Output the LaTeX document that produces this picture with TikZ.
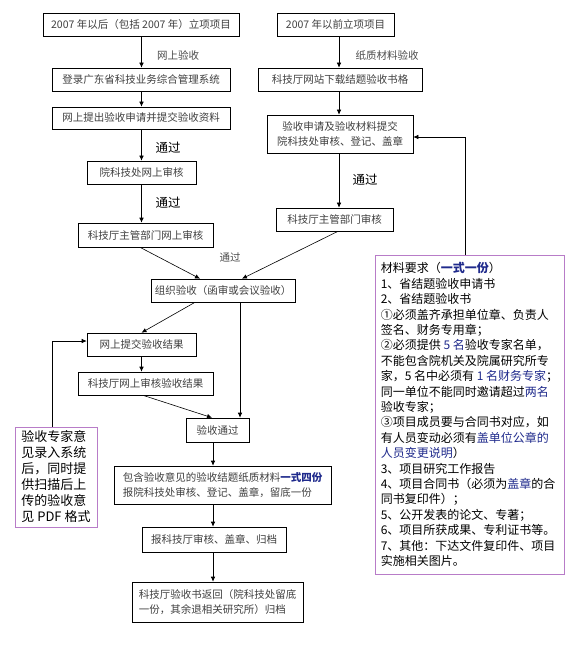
\documentclass[tikz,border=0pt]{standalone}
\usepackage{fontspec}
\setmainfont{Noto Sans CJK SC}
\usetikzlibrary{arrows.meta}
\definecolor{navy}{HTML}{1F2A8C}
\definecolor{violet}{HTML}{B87CC8}
\begin{document}
\begin{tikzpicture}[x=1pt,y=-1pt,
  box/.style={draw=black, line width=0.6pt, inner sep=0pt, text=black!75,
    font=\fontsize{10.5}{15.5}\selectfont},
  arr/.style={draw=black, line width=0.6pt, -{Latex[length=5pt,width=4.5pt]}},
  lab/.style={font=\fontsize{12.5}{14}\selectfont, text=black},
  glab/.style={font=\fontsize{10.5}{12}\selectfont, text=black!70}]
\useasboundingbox[fill=white] (0,0) rectangle (575,652);
% left column
\node[box, minimum width=196pt, minimum height=23pt] (b1) at (141,24.5) {2007 年以后（包括 2007 年）立项项目};
\node[box, minimum width=178pt, minimum height=23pt] (b2) at (141,79.5) {登录广东省科技业务综合管理系统};
\node[box, minimum width=178pt, minimum height=22pt] (b3) at (141,118) {网上提出验收申请并提交验收资料};
\node[box, minimum width=109pt, minimum height=23pt] (b4) at (141.5,172.5) {院科技处网上审核};
\node[box, minimum width=135pt, minimum height=24pt] (b5) at (145.5,235) {科技厅主管部门网上审核};
% right column
\node[box, minimum width=117pt, minimum height=23pt] (r1) at (335.5,24.5) {2007 年以前立项项目};
\node[box, minimum width=164pt, minimum height=23pt] (r2) at (340,79.5) {科技厅网站下载结题验收书格};
\node[box, minimum width=146pt, minimum height=38pt, align=center] (r3) at (340,134) {验收申请及验收材料提交\\院科技处审核、登记、盖章};
\node[box, minimum width=117pt, minimum height=23pt] (r4) at (334.5,219.5) {科技厅主管部门审核};
% merge
\node[box, minimum width=144pt, minimum height=23pt] (org) at (223,290.5) {组织验收（函审或会议验收）};
\node[box, minimum width=109pt, minimum height=23pt] (s1) at (141.5,344.5) {网上提交验收结果};
\node[box, minimum width=135pt, minimum height=23pt] (s2) at (145.5,383.5) {科技厅网上审核验收结果};
\node[box, minimum width=63pt, minimum height=24pt] (pass) at (217.5,430) {验收通过};
\node[box, minimum width=217pt, minimum height=38pt, align=left] (p1) at (222.5,485) {包含验收意见的验收结题纸质材料\textcolor{navy}{\textbf{一式四份}}\\报院科技处审核、登记、盖章，留底一份};
\node[box, minimum width=144pt, minimum height=25pt] (p2) at (214,539.5) {报科技厅审核、盖章、归档};
\node[box, minimum width=171pt, minimum height=40pt, align=left] (p3) at (217.5,602) {科技厅验收书返回（院科技处留底\\一份，其余退相关研究所）归档};
% material box
\node[draw=violet, line width=0.8pt, inner sep=0pt, minimum width=189pt, minimum height=319pt,
  align=left, text=black, font=\fontsize{12}{15.4}\selectfont] (mat) at (469.5,414.5) {%
材料要求（\textcolor{navy}{\textbf{一式一份}}）\\
1、省结题验收申请书\\
2、省结题验收书\\
①必须盖齐承担单位章、负责人\\
签名、财务专用章；\\
②必须提供 \textcolor{navy}{5 名}验收专家名单，\\
不能包含院机关及院属研究所专\\
家，5 名中必须有 \textcolor{navy}{1 名财务专家}；\\
同一单位不能同时邀请超过\textcolor{navy}{两名}\\
验收专家；\\
③项目成员要与合同书对应，如\\
有人员变动必须有\textcolor{navy}{盖单位公章的}\\
\textcolor{navy}{人员变更说明}）\\
3、项目研究工作报告\\
4、项目合同书（必须为\textcolor{navy}{盖章}的合\\
同书复印件）；\\
5、公开发表的论文、专著；\\
6、项目所获成果、专利证书等。\\
7、其他：下达文件复印件、项目\\
实施相关图片。};
% note box
\node[draw=violet, line width=0.8pt, inner sep=0pt, minimum width=82pt, minimum height=100pt,
  align=left, text=black, font=\fontsize{13}{16}\selectfont] (note) at (56,477) {%
验收专家意\\见录入系统\\后，同时提\\供扫描后上\\传的验收意\\见 PDF 格式};
% labels
\node[glab] (l1) at (178,55) {网上验收};
\node[glab] (l2) at (387,55) {纸质材料验收};
\node[lab] (l3) at (168,148) {通过};
\node[lab] (l4) at (168,203) {通过};
\node[lab] (l5) at (365,180) {通过};
\node[glab] (l6) at (230,257) {通过};
% helper coordinates
\coordinate (lx) at (141.5,0);
\coordinate (rx) at (339,0);
\coordinate (vx) at (213,0);
\coordinate (mx) at (465,137);
\coordinate (nx) at (52,341);
% arrows left
\draw[arr] (lx |- b1.south) -- (lx |- b2.north);
\draw[arr] (lx |- b2.south) -- (lx |- b3.north);
\draw[arr] (lx |- b3.south) -- (lx |- b4.north);
\draw[arr] (lx |- b4.south) -- (lx |- b5.north);
% arrows right
\draw[arr] (rx |- r1.south) -- (rx |- r2.north);
\draw[arr] (rx |- r2.south) -- (rx |- r3.north);
\draw[arr] (rx |- r3.south) -- (rx |- r4.north);
% merge arrows
\draw[arr] ([xshift=-5.5pt]b5.south) -- ([xshift=-23pt]org.north);
\draw[arr] ([xshift=3.5pt]r4.south) -- ([xshift=19pt]org.north);
\draw[arr] ([xshift=-28pt]org.south) -- (s1.north);
\draw[arr] ([xshift=17pt]org.south) -- ([xshift=22.5pt]pass.north);
\draw[arr] (lx |- s1.south) -- (lx |- s2.north);
\draw[arr] ([xshift=-2.5pt]s2.south) -- ([xshift=-5.5pt]pass.north);
\draw[arr] (vx |- pass.south) -- (vx |- p1.north);
\draw[arr] (vx |- p1.south) -- (vx |- p2.north);
\draw[arr] (vx |- p2.south) -- (vx |- p3.north);
% feedback arrows
\draw[arr] (mat.north -| mx) |- (r3.east |- mx);
\draw[arr] (note.north -| nx) |- (s1.west |- nx);
\end{tikzpicture}
\end{document}
